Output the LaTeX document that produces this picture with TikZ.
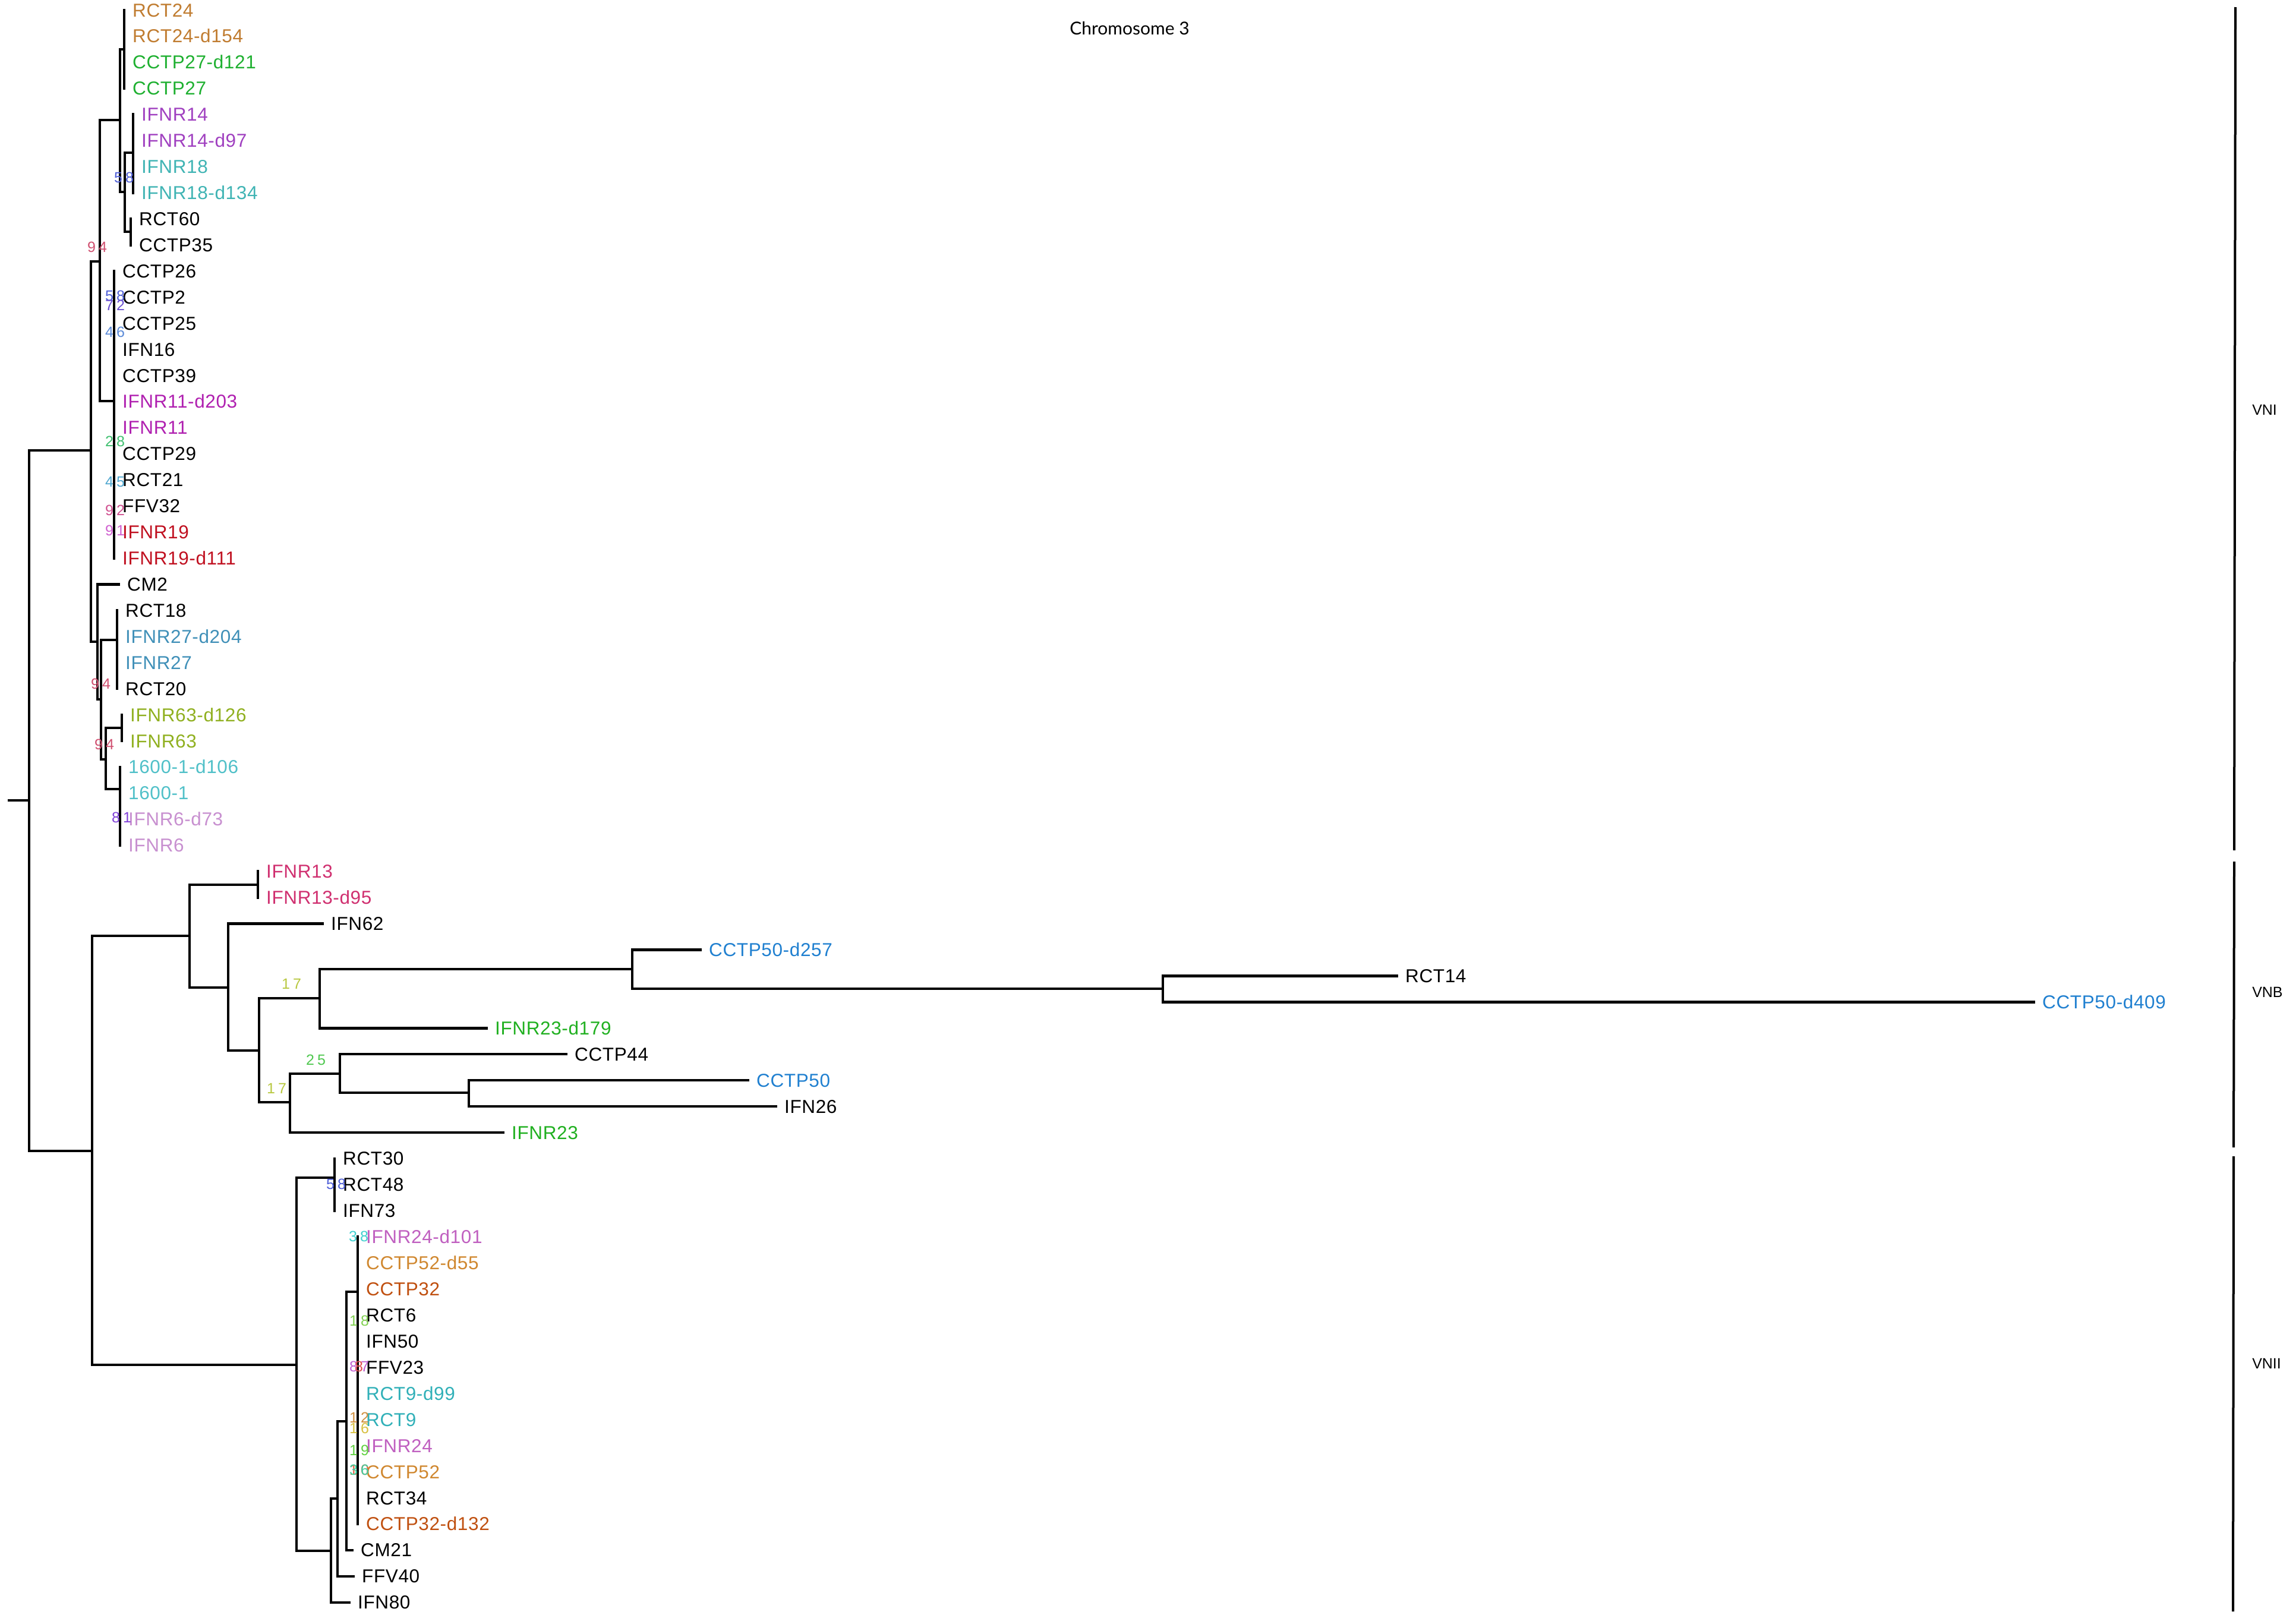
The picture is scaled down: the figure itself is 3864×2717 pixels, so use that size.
\documentclass[tikz,border=0pt]{standalone}
\usepackage{fontspec}
\setmainfont{Liberation Sans}
\newfontfamily\labfont[LetterSpace=2]{Liberation Sans}
\newfontfamily\bsfont[LetterSpace=20]{Liberation Sans}
\newfontfamily\titlefont{Lato}
\definecolor{crct}{HTML}{C07C30}
\definecolor{ccc}{HTML}{1EB030}
\definecolor{cfourteen}{HTML}{A040C0}
\definecolor{ceighteen}{HTML}{40B4B4}
\definecolor{celeven}{HTML}{B020B0}
\definecolor{cnineteen}{HTML}{C01020}
\definecolor{ctwsv}{HTML}{4090B8}
\definecolor{csixty}{HTML}{90B020}
\definecolor{csixteen}{HTML}{50C0C8}
\definecolor{csix}{HTML}{C890D0}
\definecolor{cthirteen}{HTML}{D03070}
\definecolor{cfifty}{HTML}{2080D0}
\definecolor{ctwth}{HTML}{20B020}
\definecolor{ctwfour}{HTML}{C060C0}
\definecolor{cfiftytwo}{HTML}{D08830}
\definecolor{cthirtytwo}{HTML}{C05010}
\definecolor{cnine}{HTML}{30B0B8}
\definecolor{bblue}{HTML}{5060D8}
\definecolor{bslate}{HTML}{6A50D0}
\definecolor{bcorn}{HTML}{5A8AD8}
\definecolor{bgreen}{HTML}{40C070}
\definecolor{bsky}{HTML}{50A8D0}
\definecolor{bpink}{HTML}{D05090}
\definecolor{borchid}{HTML}{D060D0}
\definecolor{bred}{HTML}{D05070}
\definecolor{bpurple}{HTML}{8040D8}
\definecolor{byg}{HTML}{B8C840}
\definecolor{blg}{HTML}{50C850}
\definecolor{bturq}{HTML}{40D0D0}
\definecolor{blime}{HTML}{80D050}
\definecolor{bviolet}{HTML}{C060D0}
\definecolor{bcoral}{HTML}{E05050}
\definecolor{borange}{HTML}{D09040}
\definecolor{byellow}{HTML}{D8C040}
\definecolor{bgreenb}{HTML}{60D040}
\definecolor{bteal}{HTML}{40D0A0}
\definecolor{bredor}{HTML}{E06040}
\newcommand\R[1]{17+43.93*#1}
\newcommand\leaf[5]{\coordinate (l#1) at (#2,{\R{#3}}); \node[lab,text=#4] (t#1) at (l#1) {#5};}
\newcommand\bsl[5]{\node[bs,text=#5] (b#1) at (#2,#3) {#4};}
\begin{document}
\begin{tikzpicture}[x=1pt,y=-1pt,
  br/.style={line width=4.5pt, line join=miter, line cap=rect},
  lab/.style={anchor=base west, inner sep=0pt, xshift=14pt, yshift=-11pt, font=\labfont\fontsize{31.5}{32}\selectfont},
  bs/.style={anchor=base west, inner sep=0pt, yshift=-9pt, font=\bsfont\fontsize{25}{26}\selectfont},
  clade/.style={anchor=west, inner sep=0pt, font=\fontsize{25}{26}\selectfont},
  bar/.style={line width=4pt}]
\fill[white] (0,0) rectangle (3864,2717);
\useasboundingbox (0,0) rectangle (3864,2717);
% title
\node[font=\titlefont\fontsize{30}{30}\selectfont, inner sep=0pt] (title) at (1901,48) {Chromosome 3};
% leaves VNI
\leaf{0}{209}{0}{crct}{RCT24}
\leaf{1}{209}{1}{crct}{RCT24-d154}
\leaf{2}{209}{2}{ccc}{CCTP27-d121}
\leaf{3}{209}{3}{ccc}{CCTP27}
\leaf{4}{224}{4}{cfourteen}{IFNR14}
\leaf{5}{224}{5}{cfourteen}{IFNR14-d97}
\leaf{6}{224}{6}{ceighteen}{IFNR18}
\leaf{7}{224}{7}{ceighteen}{IFNR18-d134}
\leaf{8}{220}{8}{black}{RCT60}
\leaf{9}{220}{9}{black}{CCTP35}
\leaf{10}{192}{10}{black}{CCTP26}
\leaf{11}{192}{11}{black}{CCTP2}
\leaf{12}{192}{12}{black}{CCTP25}
\leaf{13}{192}{13}{black}{IFN16}
\leaf{14}{192}{14}{black}{CCTP39}
\leaf{15}{192}{15}{celeven}{IFNR11-d203}
\leaf{16}{192}{16}{celeven}{IFNR11}
\leaf{17}{192}{17}{black}{CCTP29}
\leaf{18}{192}{18}{black}{RCT21}
\leaf{19}{192}{19}{black}{FFV32}
\leaf{20}{192}{20}{cnineteen}{IFNR19}
\leaf{21}{192}{21}{cnineteen}{IFNR19-d111}
\leaf{22}{200}{22}{black}{CM2}
\leaf{23}{197}{23}{black}{RCT18}
\leaf{24}{197}{24}{ctwsv}{IFNR27-d204}
\leaf{25}{197}{25}{ctwsv}{IFNR27}
\leaf{26}{197}{26}{black}{RCT20}
\leaf{27}{205}{27}{csixty}{IFNR63-d126}
\leaf{28}{205}{28}{csixty}{IFNR63}
\leaf{29}{202}{29}{csixteen}{1600-1-d106}
\leaf{30}{202}{30}{csixteen}{1600-1}
\leaf{31}{202}{31}{csix}{IFNR6-d73}
\leaf{32}{202}{32}{csix}{IFNR6}
% leaves VNB
\leaf{33}{434}{33}{cthirteen}{IFNR13}
\leaf{34}{434}{34}{cthirteen}{IFNR13-d95}
\leaf{35}{543}{35}{black}{IFN62}
\leaf{36}{1179}{36}{cfifty}{CCTP50-d257}
\leaf{37}{2351}{37}{black}{RCT14}
\leaf{38}{3423}{38}{cfifty}{CCTP50-d409}
\leaf{39}{819}{39}{ctwth}{IFNR23-d179}
\leaf{40}{953}{40}{black}{CCTP44}
\leaf{41}{1259}{41}{cfifty}{CCTP50}
\leaf{42}{1306}{42}{black}{IFN26}
\leaf{43}{847}{43}{ctwth}{IFNR23}
% leaves VNII
\leaf{44}{563}{44}{black}{RCT30}
\leaf{45}{563}{45}{black}{RCT48}
\leaf{46}{563}{46}{black}{IFN73}
\leaf{47}{602}{47}{ctwfour}{IFNR24-d101}
\leaf{48}{602}{48}{cfiftytwo}{CCTP52-d55}
\leaf{49}{602}{49}{cthirtytwo}{CCTP32}
\leaf{50}{602}{50}{black}{RCT6}
\leaf{51}{602}{51}{black}{IFN50}
\leaf{52}{602}{52}{black}{FFV23}
\leaf{53}{602}{53}{cnine}{RCT9-d99}
\leaf{54}{602}{54}{cnine}{RCT9}
\leaf{55}{602}{55}{ctwfour}{IFNR24}
\leaf{56}{602}{56}{cfiftytwo}{CCTP52}
\leaf{57}{602}{57}{black}{RCT34}
\leaf{58}{602}{58}{cthirtytwo}{CCTP32-d132}
\leaf{59}{593}{59}{black}{CM21}
\leaf{60}{595}{60}{black}{FFV40}
\leaf{61}{588}{61}{black}{IFN80}
% internal nodes
\coordinate (rs) at (15,1347);
\coordinate (n0) at (49,1347);
\coordinate (n1) at (153,758);
\coordinate (nb) at (155,1937);
\coordinate (n2) at (168,440);
\coordinate (n3) at (202,202);
\coordinate (nA) at (209,83);
\coordinate (n4) at (210,323);
\coordinate (nB) at (224,257);
\coordinate (nC) at (220,390);
\coordinate (nP1) at (192,675);
\coordinate (nL) at (164,1080);
\coordinate (n5) at (170,1177);
\coordinate (nD) at (197,1077);
\coordinate (n6) at (178,1278);
\coordinate (nE) at (205,1225);
\coordinate (nF) at (202,1328);
\coordinate (nvb) at (319,1575);
\coordinate (nG) at (434,1489);
\coordinate (n7) at (384,1662);
\coordinate (n8) at (436,1768);
\coordinate (n9) at (538,1680);
\coordinate (n10) at (1064,1631);
\coordinate (n11) at (1957,1664);
\coordinate (n12) at (488,1855);
\coordinate (n13) at (572,1807);
\coordinate (n14) at (789,1839);
\coordinate (nv2) at (499,2297);
\coordinate (nH) at (563,1982);
\coordinate (n15) at (557,2610);
\coordinate (n16) at (568,2522);
\coordinate (n17) at (583,2392);
\coordinate (nP2) at (602,2174);
% branches
\draw[br] (rs) -- (n0) (n0) |- (n1) (n0) |- (nb);
\draw[br] (n1) |- (n2) (n1) |- (nL);
\draw[br] (n2) |- (n3) (n2) |- (nP1);
\draw[br] (n3) |- (nA) (n3) |- (n4);
\draw[br] (nA) |- (l0) (nA) |- (l3);
\draw[br] (n4) |- (nB) (n4) |- (nC);
\draw[br] (nB) |- (l4) (nB) |- (l7);
\draw[br] (nC) |- (l8) (nC) |- (l9);
\draw[br] (nP1) |- (l10) (nP1) |- (l21);
\draw[br] (nL) |- (l22) (nL) |- (n5);
\draw[br] (n5) |- (nD) (n5) |- (n6);
\draw[br] (nD) |- (l23) (nD) |- (l26);
\draw[br] (n6) |- (nE) (n6) |- (nF);
\draw[br] (nE) |- (l27) (nE) |- (l28);
\draw[br] (nF) |- (l29) (nF) |- (l32);
\draw[br] (nb) |- (nvb) (nb) |- (nv2);
\draw[br] (nvb) |- (nG) (nvb) |- (n7);
\draw[br] (nG) |- (l33) (nG) |- (l34);
\draw[br] (n7) |- (l35) (n7) |- (n8);
\draw[br] (n8) |- (n9) (n8) |- (n12);
\draw[br] (n9) |- (n10) (n9) |- (l39);
\draw[br] (n10) |- (l36) (n10) |- (n11);
\draw[br] (n11) |- (l37) (n11) |- (l38);
\draw[br] (n12) |- (n13) (n12) |- (l43);
\draw[br] (n13) |- (l40) (n13) |- (n14);
\draw[br] (n14) |- (l41) (n14) |- (l42);
\draw[br] (nv2) |- (nH) (nv2) |- (n15);
\draw[br] (nH) |- (l44) (nH) |- (l46);
\draw[br] (n15) |- (n16) (n15) |- (l61);
\draw[br] (n16) |- (n17) (n16) |- (l60);
\draw[br] (n17) |- (nP2) (n17) |- (l59);
\draw[br] (nP2) |- (l47) (nP2) |- (l58);
% bootstrap labels
\bsl{1}{192}{298}{58}{bblue}
\bsl{2}{147}{415}{94}{bred}
\bsl{3}{177}{497}{58}{bblue}
\bsl{4}{177}{513}{72}{bslate}
\bsl{5}{177}{558}{46}{bcorn}
\bsl{6}{177}{742}{28}{bgreen}
\bsl{7}{177}{810}{45}{bsky}
\bsl{8}{177}{858}{92}{bpink}
\bsl{9}{177}{892}{91}{borchid}
\bsl{10}{153}{1150}{94}{bred}
\bsl{11}{159}{1252}{94}{bred}
\bsl{12}{188}{1375}{81}{bpurple}
\bsl{13}{474}{1655}{17}{byg}
\bsl{14}{515}{1783}{25}{blg}
\bsl{15}{449}{1831}{17}{byg}
\bsl{16}{549}{1992}{58}{bblue}
\bsl{17}{587}{2080}{38}{bturq}
\bsl{18}{588}{2222}{18}{blime}
\bsl{19}{588}{2299}{87}{bviolet}
\bsl{20}{597}{2299}{8}{bcoral}
\bsl{21}{588}{2385}{12}{borange}
\bsl{22}{588}{2403}{16}{byellow}
\bsl{23}{588}{2440}{19}{bgreenb}
\bsl{24}{588}{2473}{10}{bredor}
\bsl{25}{588}{2473}{36}{bteal}
% clade bars
\coordinate (c1t) at (3762,12);
\coordinate (c1b) at (3760,1431);
\coordinate (c2t) at (3760,1450);
\coordinate (c2b) at (3759,1931);
\coordinate (c3t) at (3759,1946);
\coordinate (c3b) at (3758,2712);
\draw[bar] (c1t) -- (c1b);
\draw[bar] (c2t) -- (c2b);
\draw[bar] (c3t) -- (c3b);
\node[clade] (vni) at (3790,690) {VNI};
\node[clade] (vnb) at (3790,1670) {VNB};
\node[clade] (vnii) at (3790,2295) {VNII};
\end{tikzpicture}
\end{document}
